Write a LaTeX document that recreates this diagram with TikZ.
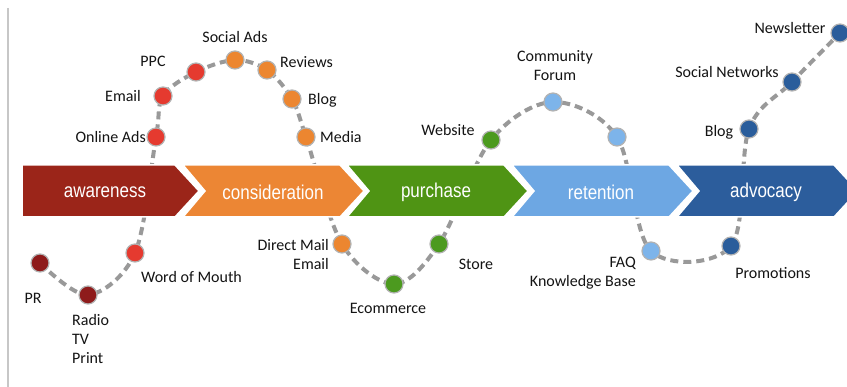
\documentclass[tikz,border=0pt]{standalone}
\usepackage{fontspec}
\setmainfont{Carlito}
\newfontfamily\chevfont[FakeStretch=0.85]{Liberation Sans}
\pgfdeclarelayer{paper}
\pgfdeclarelayer{background}
\pgfsetlayers{paper,background,main}
\definecolor{cAware}{HTML}{9B2519}
\definecolor{cCons}{HTML}{EC8634}
\definecolor{cPurch}{HTML}{4F9414}
\definecolor{cRet}{HTML}{6DA7E3}
\definecolor{cAdv}{HTML}{2C5D9C}
\definecolor{dDarkRed}{HTML}{8E1B1B}
\definecolor{dRed}{HTML}{E53A2F}
\definecolor{dOrange}{HTML}{EC8630}
\definecolor{dGreen}{HTML}{4C9A1F}
\definecolor{dLBlue}{HTML}{7DB4EA}
\definecolor{dDBlue}{HTML}{2A5D9B}
\begin{document}
\begin{tikzpicture}[x=1pt,y=-1pt,
  chev/.style={draw=white, line width=1.5, line join=miter},
  chevtext/.style={text=white, font=\chevfont\fontsize{20}{24}\selectfont, inner sep=0},
  dot/.style={circle, minimum size=18, inner sep=0, draw=black!30, line width=1.2},
  lbl/.style={font=\fontsize{16}{19}\selectfont, text=black!92, inner sep=0},
  conn/.style={draw=black!40, line width=4, dash pattern=on 8 off 5}]
\useasboundingbox (0,0) rectangle (847,387);
\begin{pgfonlayer}{paper}
\fill[white] (0,0) rectangle (847,387);
\draw[black!22, line width=2] (8,8) -- (8,387);
\end{pgfonlayer}

% chevrons
\fill[cAware, chev] (22,165) -- (175,165) -- (199,191) -- (175,217) -- (22,217) -- cycle;
\fill[cCons, chev] (183,165) -- (340,165) -- (364,191) -- (340,217) -- (183,217) -- (205,191) -- cycle;
\fill[cPurch, chev] (347,165) -- (504,165) -- (528,191) -- (504,217) -- (347,217) -- (369,191) -- cycle;
\fill[cRet, chev] (512,165) -- (669,165) -- (693,191) -- (669,217) -- (512,217) -- (534,191) -- cycle;
\fill[cAdv, chev] (677,165) -- (834,165) -- (858,191) -- (834,217) -- (677,217) -- (699,191) -- cycle;
\node[chevtext] (tAware) at (105,192) {awareness};
\node[chevtext] (tCons) at (273,192) {consideration};
\node[chevtext] (tPurch) at (436,192) {purchase};
\node[chevtext] (tRet) at (601,192) {retention};
\node[chevtext] (tAdv) at (766,192) {advocacy};

% dots
\node[dot, fill=dDarkRed] (pr) at (40,263) {};
\node[dot, fill=dDarkRed] (radio) at (88,295) {};
\node[dot, fill=dRed] (wom) at (135,253) {};
\node[dot, fill=dRed] (onlineads) at (156,137) {};
\node[dot, fill=dRed] (email) at (163,96) {};
\node[dot, fill=dRed] (ppc) at (196,72) {};
\node[dot, fill=dOrange] (socialads) at (235,60) {};
\node[dot, fill=dOrange] (reviews) at (267,70) {};
\node[dot, fill=dOrange] (blogA) at (292,99) {};
\node[dot, fill=dOrange] (media) at (306,137) {};
\node[dot, fill=dOrange] (directmail) at (342,244) {};
\node[dot, fill=dGreen] (ecommerce) at (394,284) {};
\node[dot, fill=dGreen] (store) at (439,244) {};
\node[dot, fill=dGreen] (website) at (491,140) {};
\node[dot, fill=dLBlue] (community) at (553,102) {};
\node[dot, fill=dLBlue] (retup) at (617,137) {};
\node[dot, fill=dLBlue] (faq) at (651,251) {};
\node[dot, fill=dDBlue] (promotions) at (731,246) {};
\node[dot, fill=dDBlue] (blogB) at (749,129) {};
\node[dot, fill=dDBlue] (socialnet) at (792,82) {};
\node[dot, fill=dDBlue] (newsletter) at (840,33) {};

% connector
\begin{pgfonlayer}{background}
\draw[conn] plot[smooth, tension=0.55] coordinates {(pr) (radio) (wom) (onlineads) (email) (ppc) (socialads) (reviews) (blogA) (media) (directmail) (ecommerce) (store) (website) (community) (retup) (faq) (promotions) (blogB) (socialnet) (newsletter)};
\end{pgfonlayer}

% labels
\node[lbl] (lPR) at (33,298) {PR};
\node[lbl, align=left, anchor=north west] (lRadio) at (72,314) {Radio\\TV\\Print};
\node[lbl, anchor=west] (lWom) at (141,277) {Word of Mouth};
\node[lbl, anchor=east] (lOnline) at (146,137) {Online Ads};
\node[lbl, anchor=east] (lEmail) at (141,96) {Email};
\node[lbl] (lPPC) at (153,61) {PPC};
\node[lbl] (lSocialAds) at (235,37) {Social Ads};
\node[lbl, anchor=west] (lReviews) at (280,62) {Reviews};
\node[lbl, anchor=west] (lBlogA) at (308,100) {Blog};
\node[lbl, anchor=west] (lMedia) at (320,137) {Media};
\node[lbl, align=right, anchor=east] (lDirect) at (329,255) {Direct Mail\\Email};
\node[lbl] (lEcom) at (388,308) {Ecommerce};
\node[lbl] (lStore) at (476,264) {Store};
\node[lbl] (lWebsite) at (448,130) {Website};
\node[lbl, align=center] (lCommunity) at (555,66) {Community\\Forum};
\node[lbl, align=right, anchor=east] (lFAQ) at (636,273) {FAQ\\Knowledge Base};
\node[lbl] (lPromo) at (773,273) {Promotions};
\node[lbl] (lBlogB) at (719,132) {Blog};
\node[lbl] (lSocialNet) at (727,72) {Social Networks};
\node[lbl] (lNews) at (790,28) {Newsletter};
\end{tikzpicture}
\end{document}
